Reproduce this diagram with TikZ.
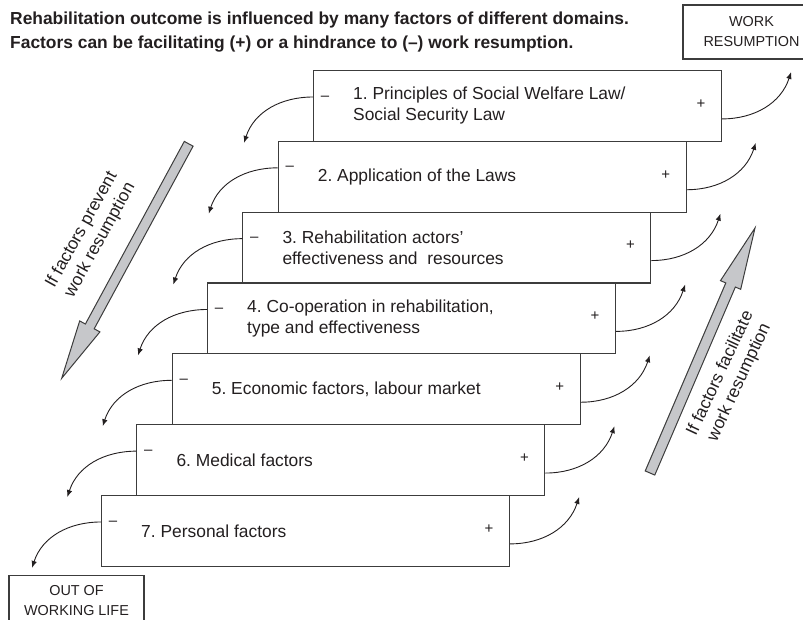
\documentclass[tikz,border=0pt]{standalone}
\usepackage{fontspec}
\setmainfont{Liberation Sans}
\usetikzlibrary{calc,arrows.meta}
\definecolor{ink}{HTML}{231F20}
\definecolor{edge}{HTML}{3C3C3C}
\definecolor{arrowgray}{HTML}{C6C7CA}
\frenchspacing
\tikzset{
  stepbox/.style={draw=edge, line width=1.1pt, fill=white, minimum width=408pt, minimum height=70.8pt, anchor=north west, inner sep=0pt},
  boxtext/.style={text=ink, font=\fontsize{17.4}{21}\selectfont, align=left, anchor=west, inner sep=0pt},
  signtext/.style={text=ink, font=\fontsize{15}{15}\selectfont, inner sep=0pt},
  endbox/.style={draw=edge, line width=1.1pt, text=ink, font=\fontsize{14.4}{20}\selectfont, align=center, inner sep=0pt},
  curv/.style={draw=ink, line width=0.9pt, -{Latex[length=7pt,width=5.5pt]}},
  bigarrow/.style={draw=edge, line width=1pt, fill=arrowgray, line join=miter},
  sidetext/.style={text=ink, font=\fontsize{17.4}{21}\selectfont, align=center, inner sep=0pt}
}
\begin{document}
\begin{tikzpicture}[x=1pt,y=-1pt]
\useasboundingbox (0,0) rectangle (803,620);
\clip (0,0) rectangle (803,620);

% title
\node[text=ink, font=\bfseries\fontsize{17.4}{24}\selectfont, align=left, anchor=west, inner sep=0pt] (title) at (10,32)
  {Rehabilitation outcome is influenced by many factors of different domains.\\
   Factors can be facilitating (+) or a hindrance to (--) work resumption.};

% end boxes
\node[endbox, minimum width=137pt, minimum height=54pt] (work) at (751.5,32) {WORK\\RESUMPTION};
\node[endbox, minimum width=135pt, minimum height=50pt, anchor=north] (out) at (76.5,575) {OUT OF\\WORKING LIFE};

% stair boxes
\foreach \k/\txt in {1/{1. Principles of Social Welfare Law/\\Social Security Law},
                     2/{2. Application of the Laws},
                     3/{3. Rehabilitation actors’\\effectiveness and \ resources},
                     4/{4. Co-operation in rehabilitation,\\type and effectiveness},
                     5/{5. Economic factors, labour market},
                     6/{6. Medical factors},
                     7/{7. Personal factors}}{
  \node[stepbox] (b\k) at ({313-35.33*(\k-1)},{70+70.83*(\k-1)}) {};
  \node[boxtext] (t\k) at ([xshift=40pt]b\k.west) {\txt};
  \node[signtext] (m\k) at ([xshift=12pt,yshift=-28pt]b\k.north west) {–};
  \node[signtext] (p\k) at ([xshift=-21pt,yshift=-34pt]b\k.north east) {+};
  \coordinate (lt\k) at ([xshift=-69pt,yshift=-1pt]b\k.south west);
  \coordinate (rt\k) at ([xshift=69pt,yshift=-2pt]b\k.north east);
  \draw[curv] ([yshift=-27pt]b\k.north west) to[out=180,in=72] (lt\k);
  \draw[curv] ([yshift=23pt]b\k.south east) to[out=0,in=-108] (rt\k);
}

% big arrow: prevent
\coordinate (LT) at (188.7,143.8);
\coordinate (LP) at (61.7,378.3);
\coordinate (LH) at ($(LP)!59pt!(LT)$);
\draw[bigarrow] ($(LT)!5pt!90:(LP)$) -- ($(LH)!5pt!-90:(LT)$) -- ($(LH)!11.5pt!-90:(LT)$) -- (LP)
   -- ($(LH)!11.5pt!90:(LT)$) -- ($(LH)!5pt!90:(LT)$) -- ($(LT)!5pt!-90:(LP)$) -- cycle;
\node[sidetext, rotate=61] (lefttext) at (91,235) {If factors prevent\\work resumption};

% big arrow: facilitate
\coordinate (RT) at (650,473);
\coordinate (RP) at (755,228);
\coordinate (RH) at ($(RP)!62pt!(RT)$);
\draw[bigarrow] ($(RT)!5.2pt!90:(RP)$) -- ($(RH)!5.2pt!-90:(RT)$) -- ($(RH)!11pt!-90:(RT)$) -- (RP)
   -- ($(RH)!11pt!90:(RT)$) -- ($(RH)!5.2pt!90:(RT)$) -- ($(RT)!5.2pt!-90:(RP)$) -- cycle;
\node[sidetext, rotate=65] (righttext) at (730,378) {If factors facilitate\\work resumption};
\end{tikzpicture}
\end{document}
